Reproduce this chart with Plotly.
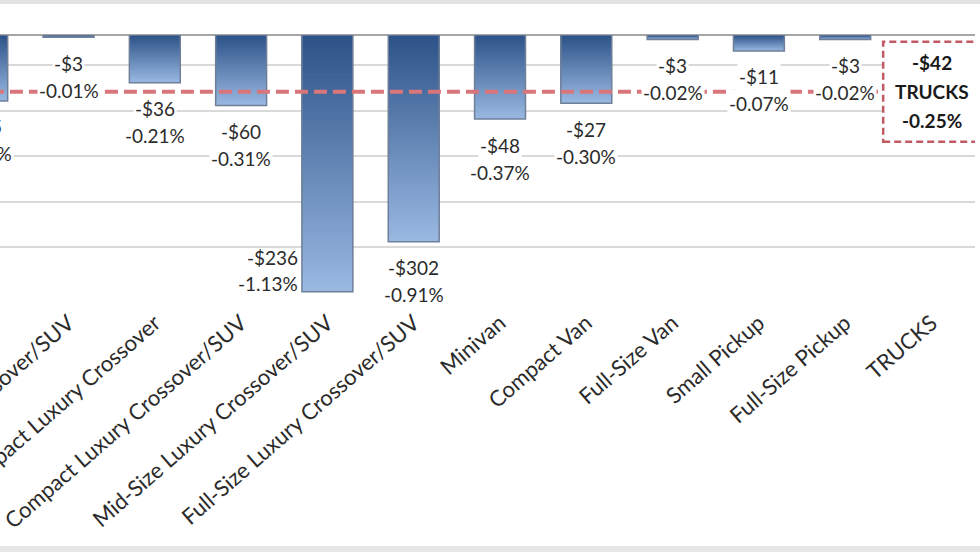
import plotly.graph_objects as go

# ---------------- data ----------------
categories = ["Mid-Size Crossover/SUV", "Full-Size Crossover/SUV", "Subcompact Luxury Crossover",
              "Compact Luxury Crossover/SUV", "Mid-Size Luxury Crossover/SUV",
              "Full-Size Luxury Crossover/SUV", "Minivan", "Compact Van", "Full-Size Van",
              "Small Pickup", "Full-Size Pickup"]
dollar_change = [-45, -3, -36, -60, -236, -302, -48, -27, -3, -11, -3]
pct_change = [-0.29, -0.01, -0.21, -0.31, -1.13, -0.91, -0.37, -0.30, -0.02, -0.07, -0.02]
total_label = "TRUCKS"
total_dollar = -42
total_pct = -0.25

# ---------------- styling ----------------
FONT = "Lato"
TXT = "#2b2b2b"
W, H = 980, 552
M_L, M_R, M_T, M_B = 0, 5, 35, 259
BAR_W = 0.59
X_RANGE = [0.206, 11.504]
Y_RANGE = [-1.135, 0]
TOP_C = (43, 81, 134)
BOT_C = (153, 184, 226)
N = 60

n = len(categories)
xs = list(range(n))
all_labels = categories + [total_label]

fig = go.Figure()

def mix(f):
    r = [round(TOP_C[i] + (BOT_C[i] - TOP_C[i]) * f) for i in range(3)]
    return f"rgb({r[0]},{r[1]},{r[2]})"

# gradient: draw nested bars from longest (lightest) to shortest (darkest)
for k in range(N, 0, -1):
    frac = k / N
    fig.add_trace(go.Bar(
        x=xs, y=[p * frac for p in pct_change], width=BAR_W,
        marker=dict(color=mix(frac), line=dict(width=0)),
        hoverinfo="skip", showlegend=False))
# outline
fig.add_trace(go.Bar(
    x=xs, y=pct_change, width=BAR_W,
    marker=dict(color="rgba(0,0,0,0)", line=dict(color="#6f7f98", width=1.5)),
    customdata=dollar_change,
    hovertemplate="%{text}<br>$%{customdata}<br>%{y:.2f}%<extra></extra>",
    text=categories, textposition="none", showlegend=False))

# average (TRUCKS) dashed line
fig.add_shape(type="line", xref="x", yref="y", x0=-1, x1=n - 0.55,
              y0=total_pct, y1=total_pct, layer="above",
              line=dict(color="#d9767b", width=4, dash="13px,6px"))

# TRUCKS box
fig.add_shape(type="rect", xref="x", yref="y", x0=n - 0.56, x1=n + 0.53,
              y0=total_pct - 0.22, y1=total_pct + 0.22, layer="above",
              fillcolor="white", line=dict(color="#c25a63", width=2.5, dash="7px,4px"))

def x_domain(v):
    return (v - X_RANGE[0]) / (X_RANGE[1] - X_RANGE[0])

ymin_idx = pct_change.index(min(pct_change))
for i, (d, p) in enumerate(zip(dollar_change, pct_change)):
    lines = [f"-${abs(d)}", f"{p:.2f}%"]
    if i == ymin_idx:
        for j, (t, s) in enumerate(zip(lines, [34, 8])):
            fig.add_annotation(x=i - BAR_W / 2, y=p, xref="x", yref="y", text=t,
                               showarrow=False, xanchor="right", yanchor="middle",
                               xshift=-2, yshift=s,
                               font=dict(family=FONT, size=19, color=TXT))
        continue
    if X_RANGE[0] <= i <= X_RANGE[1]:
        xr, xv = "x", i
    else:
        xr, xv = "x domain", x_domain(i)
    for t, s in zip(lines, [-26, -53]):
        fig.add_annotation(x=xv, y=p, xref=xr, yref="y", text=t, showarrow=False,
                           xanchor="center", yanchor="middle", yshift=s,
                           bgcolor="white", borderpad=1, height=25,
                           font=dict(family=FONT, size=19, color=TXT))

for t, s in zip([f"-${abs(total_dollar)}", total_label, f"{total_pct:.2f}%"], [29, 0, -29]):
    fig.add_annotation(x=n, y=total_pct, xref="x", yref="y", text=f"<b>{t}</b>",
                       showarrow=False, yshift=s, xanchor="center", yanchor="middle",
                       font=dict(family=FONT, size=19, color="#1a1a1a"))

# outer chart border bands
ph = H - M_T - M_B
fig.add_shape(type="rect", xref="paper", yref="paper", x0=-0.01, x1=1.02,
              y0=1 + (M_T - 4) / ph, y1=1 + M_T / ph + 0.01,
              fillcolor="#e2e2e2", line=dict(width=0), layer="below")
fig.add_shape(type="rect", xref="paper", yref="paper", x0=-0.01, x1=1.02,
              y0=-(M_B + 2) / ph, y1=-(M_B - 6) / ph,
              fillcolor="#e6e6e6", line=dict(width=0), layer="below")

fig.update_layout(
    width=W, height=H,
    margin=dict(l=M_L, r=M_R, t=M_T, b=M_B, autoexpand=False),
    barmode="overlay",
    paper_bgcolor="white", plot_bgcolor="white",
    font=dict(family=FONT, color=TXT),
    xaxis=dict(range=X_RANGE, tickmode="array", tickvals=list(range(n + 1)),
               ticktext=all_labels, tickangle=-41, showgrid=False, zeroline=False,
               showline=False, ticks="", automargin=False, ticklabeloverflow="allow",
               ticklabelstandoff=12,
               tickfont=dict(family=FONT, size=22, color=TXT)),
    yaxis=dict(range=Y_RANGE, tick0=-0.1336, dtick=0.2, showticklabels=False,
               showgrid=True, gridcolor="#d9d9d9", gridwidth=1.5, automargin=False,
               zeroline=True, zerolinecolor="#a6a6a6", zerolinewidth=2),
)

fig.write_html("out.html", config={"displayModeBar": False},
               post_script="document.body.style.margin='0px';document.body.style.overflow='hidden';")
